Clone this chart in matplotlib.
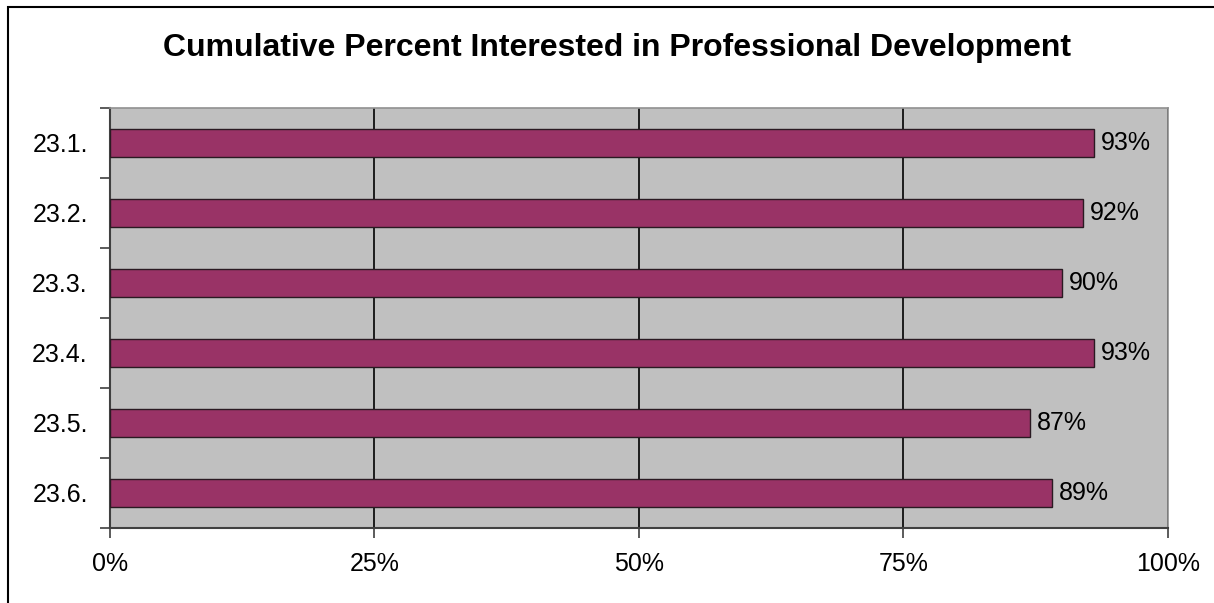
import matplotlib.pyplot as plt
from matplotlib.patches import Rectangle
from matplotlib.ticker import FixedLocator

# Survey items and cumulative percent interested
ITEMS = ['23.1.', '23.2.', '23.3.', '23.4.', '23.5.', '23.6.']
PERCENTS = [93, 92, 90, 93, 87, 89]
X_TICKS = [0, 25, 50, 75, 100]

plt.rcParams['font.family'] = ['Liberation Sans', 'DejaVu Sans']

fig = plt.figure(figsize=(12.14, 6.03), dpi=100)
ax = fig.add_axes([0.0906, 0.1244, 0.8715, 0.6965])
ax.set_facecolor('#c0c0c0')

pos = list(range(len(ITEMS)))
ax.barh(pos, PERCENTS, height=0.4, color='#993366', edgecolor='#2a1a22', linewidth=1, zorder=3)
for p, v in zip(pos, PERCENTS):
    ax.text(v + 0.65, p, f'{v}%', va='center', ha='left', fontsize=18, zorder=4)

ax.set_xlim(0, 100)
ax.set_ylim(len(ITEMS) - 0.5, -0.5)

ax.set_xticks(X_TICKS)
ax.set_xticklabels([f'{t}%' for t in X_TICKS], fontsize=18)
ax.set_yticks(pos)
ax.set_yticklabels(ITEMS, fontsize=18)
ax.tick_params(axis='y', length=0, pad=16)
ax.tick_params(axis='x', length=7, width=1.2, color='#404040', pad=10)

# category boundary ticks on the left axis
ax.yaxis.set_minor_locator(FixedLocator([i - 0.5 for i in range(len(ITEMS) + 1)]))
ax.tick_params(axis='y', which='minor', length=7, width=1.2, color='#404040')

ax.grid(axis='x', color='black', linewidth=1.2, zorder=1)
ax.set_axisbelow(True)

for side in ['left', 'bottom']:
    ax.spines[side].set_color('#404040')
    ax.spines[side].set_linewidth(1.5)
for side in ['top', 'right']:
    ax.spines[side].set_color('#909090')
    ax.spines[side].set_linewidth(1.2)

fig.text(0.508, 0.92, 'Cumulative Percent Interested in Professional Development',
         ha='center', va='center', fontsize=23, fontweight='bold')

# chart area frame
fig.patches.append(Rectangle((8 / 1214, -0.1), 1.2, 1.1 - 7 / 603,
                             transform=fig.transFigure, fill=False,
                             edgecolor='black', linewidth=1.5))

fig.savefig('out.png', dpi=100)
